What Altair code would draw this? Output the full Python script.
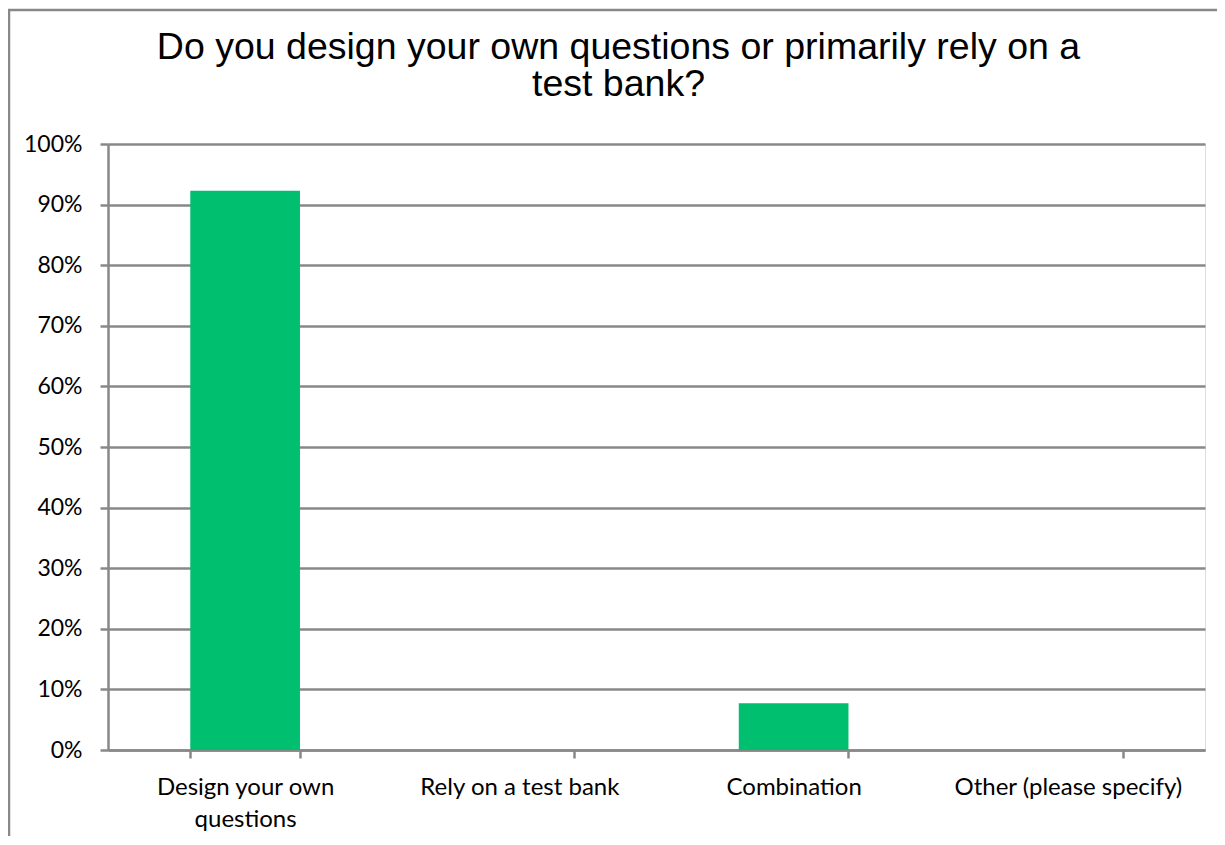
import altair as alt
import pandas as pd

categories = ["Design your own questions", "Rely on a test bank", "Combination", "Other (please specify)"]
shares = [0.923, 0.0, 0.077, 0.0]
y_ticks = [0, 0.1, 0.2, 0.3, 0.4, 0.5, 0.6, 0.7, 0.8, 0.9, 1.0]

df = pd.DataFrame({"category": categories, "share": shares})

GRID = "#888888"

bars = alt.Chart(df).mark_bar(color="#00BF6F").encode(
    x=alt.X(
        "category:N",
        sort=categories,
        title=None,
        scale=alt.Scale(paddingInner=0.6, paddingOuter=0.3),
        axis=alt.Axis(
            labelAngle=0,
            labelFont="Lato",
            labelFontSize=24,
            labelColor="#000000",
            labelPadding=17,
            labelLineHeight=32,
            labelBaseline="top",
            labelLimit=0,
            labelExpr="datum.value == 'Design your own questions' ? ['Design your own', 'questions'] : datum.value",
            tickBand="extent",
            tickSize=8,
            tickWidth=2.5,
            tickColor=GRID,
            domainColor=GRID,
            domainWidth=2.5,
            grid=False,
        ),
    ),
    y=alt.Y(
        "share:Q",
        title=None,
        scale=alt.Scale(domain=[0, 1], nice=False),
        axis=alt.Axis(
            values=y_ticks,
            format=".0%",
            labelFont="Lato",
            labelFontSize=23,
            labelColor="#000000",
            labelPadding=18,
            tickSize=8,
            tickWidth=2.5,
            tickColor=GRID,
            domainColor=GRID,
            domainWidth=2.5,
            grid=True,
            gridColor=GRID,
            gridWidth=2.5,
        ),
    ),
)

frame = alt.Chart(df.head(1)).mark_rect(
    fill=None, stroke=GRID, strokeWidth=2.5
).encode(
    x=alt.value(-99), x2=alt.value(1300),
    y=alt.value(-134), y2=alt.value(900),
)

chart = alt.layer(frame, bars).properties(
    width=1097,
    height=606,
    title=alt.TitleParams(
        text=["Do you design your own questions or primarily rely on a", "test bank?"],
        font="Liberation Sans",
        fontSize=37.5,
        fontWeight="normal",
        color="#000000",
        lineHeight=37,
        anchor="middle",
        frame="group",
        dx=-38,
        offset=-95,
    ),
    autosize=alt.AutoSizeParams(type="none"),
    padding={"left": 100, "top": 136, "right": 12, "bottom": 86},
).configure_view(stroke=None).configure(background="#ffffff")

chart.save("out.html", embed_options={"renderer": "svg", "actions": False})
